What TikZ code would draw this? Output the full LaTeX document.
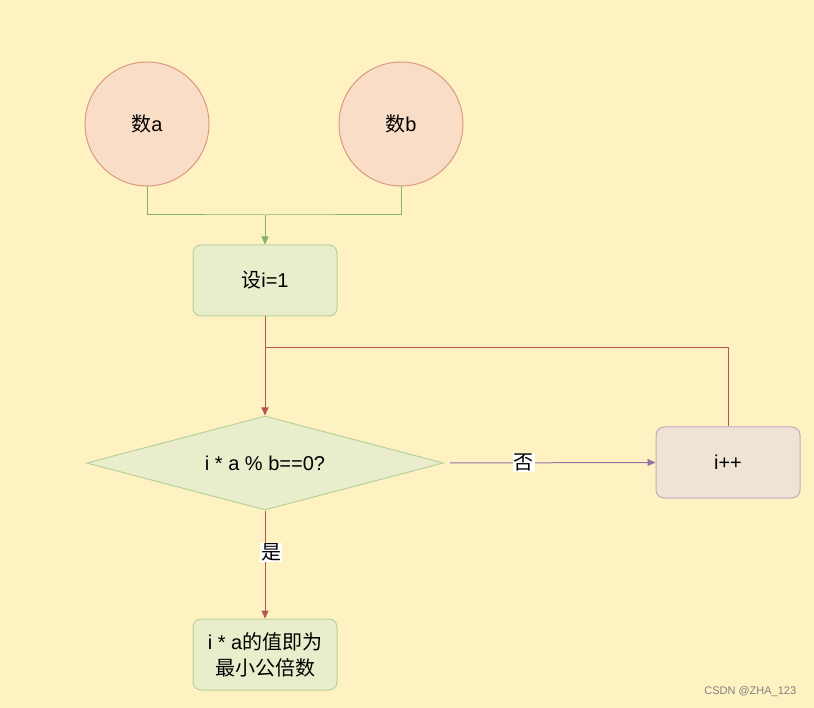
\documentclass[tikz,border=0pt]{standalone}
\usepackage{fontspec}
\setmainfont{Liberation Sans}
\newfontfamily\cjk{Noto Sans CJK SC}
\usetikzlibrary{shapes.geometric,arrows.meta}
\definecolor{bg}{HTML}{FFF2C2}
\definecolor{circf}{HTML}{FADDC6}
\definecolor{circd}{HTML}{D99A80}
\definecolor{gf}{HTML}{E9EDCB}
\definecolor{gd}{HTML}{B9D19A}
\definecolor{pf}{HTML}{EFE3D5}
\definecolor{pd}{HTML}{C3A9BF}
\definecolor{gline}{HTML}{82B366}
\definecolor{rline}{HTML}{B85450}
\definecolor{pline}{HTML}{9673A6}
\begin{document}
\begin{tikzpicture}[x=1pt,y=-1pt,line width=1pt,
  txt/.style={font=\fontsize{20}{23}\selectfont,text=black},
  circ/.style={circle,draw=circd,fill=circf,minimum size=124pt,inner sep=0pt,txt},
  gbox/.style={rounded corners=8pt,draw=gd,fill=gf,minimum width=144pt,minimum height=71pt,txt,align=center},
  pbox/.style={rounded corners=8pt,draw=pd,fill=pf,minimum width=144pt,minimum height=71pt,txt},
  dia/.style={diamond,aspect=3.8,draw=gd,fill=gf,minimum width=357pt,minimum height=94pt,inner sep=0pt,txt},
  arr/.style={-{Triangle[length=8pt,width=7pt]}},
  lab/.style={fill=white,inner sep=1pt,txt}]
\fill[bg] (0,0) rectangle (814,708);
\useasboundingbox (0,0) rectangle (814,708);
\node[circ] (a) at (147,124) {{\cjk 数}a};
\node[circ] (b) at (401,124) {{\cjk 数}b};
\node[gbox] (s) at (265,280.5) {{\cjk 设}i=1};
\node[dia] (d) at (265,463) {i * a \% b==0?};
\node[pbox] (inc) at (728,462.5) {i++};
\node[gbox,font=\fontsize{20}{26}\selectfont] (r) at (265,654.5) {i * a{\cjk 的值即为}\\{\cjk 最小公倍数}};
\coordinate (m) at (265,215);
\coordinate (loop) at (265,348);
\draw[gline] (a.south) |- (m) -| (b.south);
\draw[gline,arr] (m) -- (s.north);
\draw[rline,arr] (s.south) -- (d.north);
\draw[rline] (inc.north) |- (loop);
\draw[pline,arr] ([xshift=6pt]d.east) -- (inc.west) node[lab,pos=0.36] {\cjk 否};
\draw[rline,arr] (d.south) -- (r.north) node[lab,pos=0.39,xshift=6pt] {\cjk 是};
\node[text=gray,font=\fontsize{11}{12}\selectfont,anchor=east] (w) at (800,692) {CSDN @ZHA\_123};
\end{tikzpicture}
\end{document}
